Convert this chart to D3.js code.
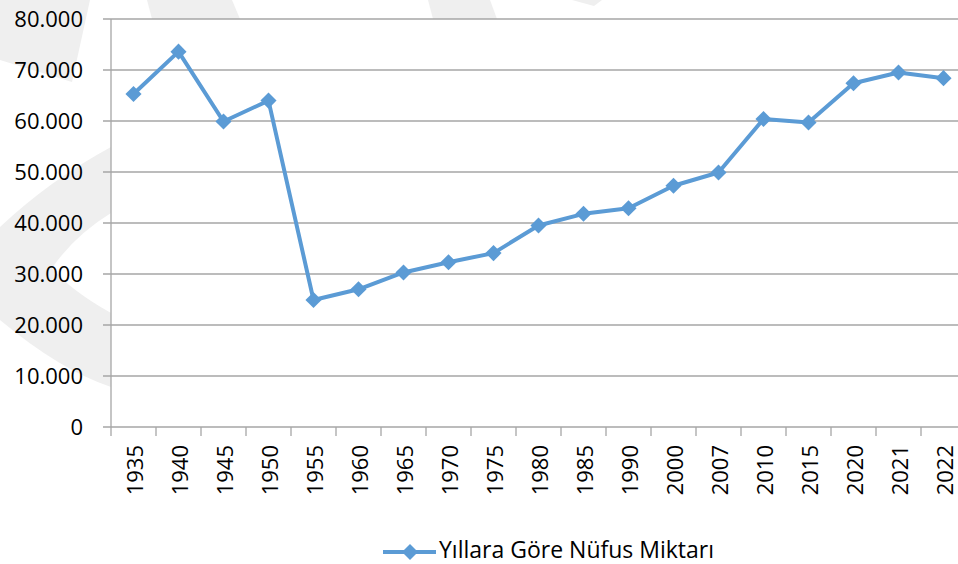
<!DOCTYPE html>
<html>
<head>
<meta charset="utf-8">
<script src="https://cdn.jsdelivr.net/npm/d3@7"></script>
<style>
  body { margin: 0; background: #fff; }
  svg { display: block; font-family: "Open Sans", "Noto Sans", sans-serif; }
</style>
</head>
<body>
<div id="chart"></div>
<script>
// Chart data
const years = ["1935", "1940", "1945", "1950", "1955", "1960", "1965", "1970", "1975", "1980",
               "1985", "1990", "2000", "2007", "2010", "2015", "2020", "2021", "2022"];
const population = [65300, 73600, 59900, 64000, 24900, 27000, 30300, 32300, 34100, 39500,
                    41800, 42900, 47300, 49900, 60400, 59700, 67400, 69500, 68400];
const yTicks = [0, 10000, 20000, 30000, 40000, 50000, 60000, 70000, 80000];
const seriesName = "Yıllara Göre Nüfus Miktarı";

const width = 958, height = 564;
const plot = { left: 111, right: 966, top: 19, bottom: 427 };
const lineColor = "#5b9bd5";
const gridColor = "#a6a6a6";

const svg = d3.select("#chart").append("svg")
    .attr("width", width)
    .attr("height", height);

// faint watermark behind the chart (only shows outside the plot area)
const wm = svg.append("g").attr("fill", "#efefef");
wm.append("path").attr("d", "M111,147 Q50,180 0,227 V320 Q60,370 111,387 V313 Q70,290 52,268 Q75,235 111,213 Z");
wm.append("path").attr("d", "M0,0 H90 L72,82 L0,60 Z");
wm.append("path").attr("d", "M147,0 H232 L240,19 H152 Z");
wm.append("path").attr("d", "M428,0 H490 L497,19 H433 Z");
wm.append("path").attr("d", "M572,0 H602 L594,6 Z");

// plot area covers the watermark
svg.append("rect")
    .attr("x", plot.left).attr("y", plot.top)
    .attr("width", plot.right - plot.left).attr("height", plot.bottom - plot.top)
    .attr("fill", "#fff");

const x = d3.scaleBand()
    .domain(years)
    .range([plot.left, plot.right])
    .padding(0);

const y = d3.scaleLinear()
    .domain([0, 80000])
    .range([plot.bottom, plot.top]);

const trFormat = d3.formatLocale({ decimal: ",", thousands: ".", grouping: [3], currency: ["", ""] }).format(",");

// horizontal gridlines
svg.append("g")
    .selectAll("line")
    .data(yTicks)
    .join("line")
    .attr("x1", plot.left - 8)
    .attr("x2", plot.right)
    .attr("y1", d => y(d))
    .attr("y2", d => y(d))
    .attr("stroke", gridColor)
    .attr("stroke-width", 1.3);

// y axis line
svg.append("line")
    .attr("x1", plot.left).attr("x2", plot.left)
    .attr("y1", plot.top).attr("y2", plot.bottom)
    .attr("stroke", gridColor)
    .attr("stroke-width", 1.3);

// y tick labels
svg.append("g")
    .selectAll("text")
    .data(yTicks)
    .join("text")
    .attr("x", plot.left - 28)
    .attr("y", d => y(d))
    .attr("dy", "0.35em")
    .attr("text-anchor", "end")
    .attr("font-size", 22)
    .attr("fill", "#000")
    .text(d => trFormat(d));

// x tick marks at category boundaries
const boundaries = years.map(d => x(d)).concat([x(years[years.length - 1]) + x.bandwidth()]);
svg.append("g")
    .selectAll("line")
    .data(boundaries)
    .join("line")
    .attr("x1", d => d).attr("x2", d => d)
    .attr("y1", plot.bottom).attr("y2", plot.bottom + 9)
    .attr("stroke", gridColor)
    .attr("stroke-width", 1.3);

// x labels, rotated
svg.append("g")
    .selectAll("text")
    .data(years)
    .join("text")
    .attr("transform", d => `translate(${x(d) + x.bandwidth() / 2 + 2},445) rotate(-90)`)
    .attr("dy", "0.35em")
    .attr("text-anchor", "end")
    .attr("font-size", 22)
    .attr("fill", "#000")
    .text(d => d);

// series line
const pts = years.map((d, i) => [x(d) + x.bandwidth() / 2, y(population[i])]);
svg.append("path")
    .datum(pts)
    .attr("d", d3.line())
    .attr("fill", "none")
    .attr("stroke", lineColor)
    .attr("stroke-width", 4)
    .attr("stroke-linejoin", "round");

const diamond = d3.symbol().type(d3.symbolDiamond2).size(165);
svg.append("g")
    .selectAll("path")
    .data(pts)
    .join("path")
    .attr("transform", d => `translate(${d[0]},${d[1]})`)
    .attr("d", diamond)
    .attr("fill", lineColor);

// legend
const legend = svg.append("g").attr("transform", "translate(383,552)");
legend.append("line")
    .attr("x1", 0).attr("x2", 53)
    .attr("stroke", lineColor)
    .attr("stroke-width", 4);
legend.append("path")
    .attr("transform", "translate(27,0)")
    .attr("d", diamond)
    .attr("fill", lineColor);
legend.append("text")
    .attr("x", 56)
    .attr("y", 6)
    .attr("font-size", 23)
    .attr("fill", "#000")
    .text(seriesName);
</script>
</body>
</html>
